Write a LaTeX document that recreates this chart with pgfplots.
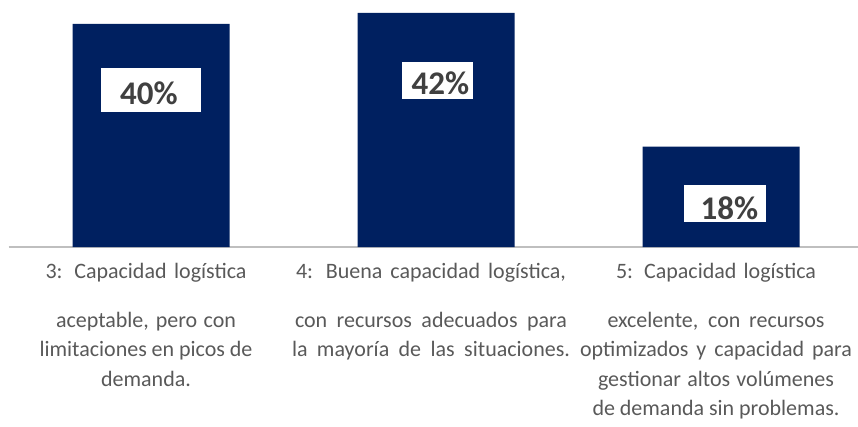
\documentclass[border=0pt]{standalone}
\usepackage{pgfplots}
\pgfplotsset{compat=1.18}
\usepackage{fontspec}
\setmainfont{Carlito}
\definecolor{barblue}{HTML}{002060}
\definecolor{axgray}{HTML}{BFBFBF}
\definecolor{txtgray}{HTML}{595959}
\definecolor{pctgray}{HTML}{404040}
% justified line of a given width
\newcommand{\jl}[2]{\makebox[#1bp][s]{#2}}

\begin{document}
\begin{tikzpicture}
\useasboundingbox (0,0) rectangle (858bp,427bp);
\begin{axis}[
    at={(8.5bp,180bp)}, anchor=south west,
    scale only axis, width=849.3bp, height=247bp,
    xmin=-0.5, xmax=2.48, ymin=0, ymax=44.3,
    axis y line=none,
    axis x line*=bottom,
    x axis line style={draw=axgray, line width=1.8bp, -},
    ytick=\empty,
    xtick={0,1,2},
    major tick length=0pt,
    xticklabels={
      {\jl{201}{3: Capacidad logística}\\[19.5bp]
       \jl{180}{aceptable, pero con}\\
       \jl{213}{limitaciones en picos de}\\
       demanda.},
      {\jl{270}{4: Buena capacidad logística,}\\[19.5bp]
       \jl{272}{con recursos adecuados para}\\
       \jl{278}{la mayoría de las situaciones.}},
      {\jl{200}{5: Capacidad logística}\\[19.5bp]
       \jl{217}{excelente, con recursos}\\
       \jl{272}{optimizados y capacidad para}\\
       \jl{236}{gestionar altos volúmenes}\\
       \jl{247}{de demanda sin problemas.}}
    },
    x tick label style={font=\fontsize{22bp}{29.5bp}\selectfont, text=txtgray,
      align=center, anchor=north, inner sep=0pt, yshift=-16bp, xshift=-5bp},
    clip=false,
]
\addplot[ybar, bar width=157bp, fill=barblue, draw=none]
    coordinates {(0,40) (1,42) (2,18)};
\addplot[draw=none, mark=none, nodes near coords, point meta=explicit symbolic,
    nodes near coords style={anchor=center, fill=white, inner sep=0pt,
      text=pctgray, font=\fontsize{33bp}{36bp}\selectfont\bfseries}]
    coordinates {
      (0,28.16)     [\hspace{19bp}40\%\hspace{23bp}\vrule height 37bp depth 7bp width 0pt]
      (1.005,29.87) [\hspace{10bp}42\%\hspace{4bp}\vrule height 33bp depth 4bp width 0pt]
      (2.014,7.80)  [\hspace{17bp}18\%\hspace{8bp}\vrule height 34bp depth 3bp width 0pt]
    };
\end{axis}
\end{tikzpicture}
\end{document}
